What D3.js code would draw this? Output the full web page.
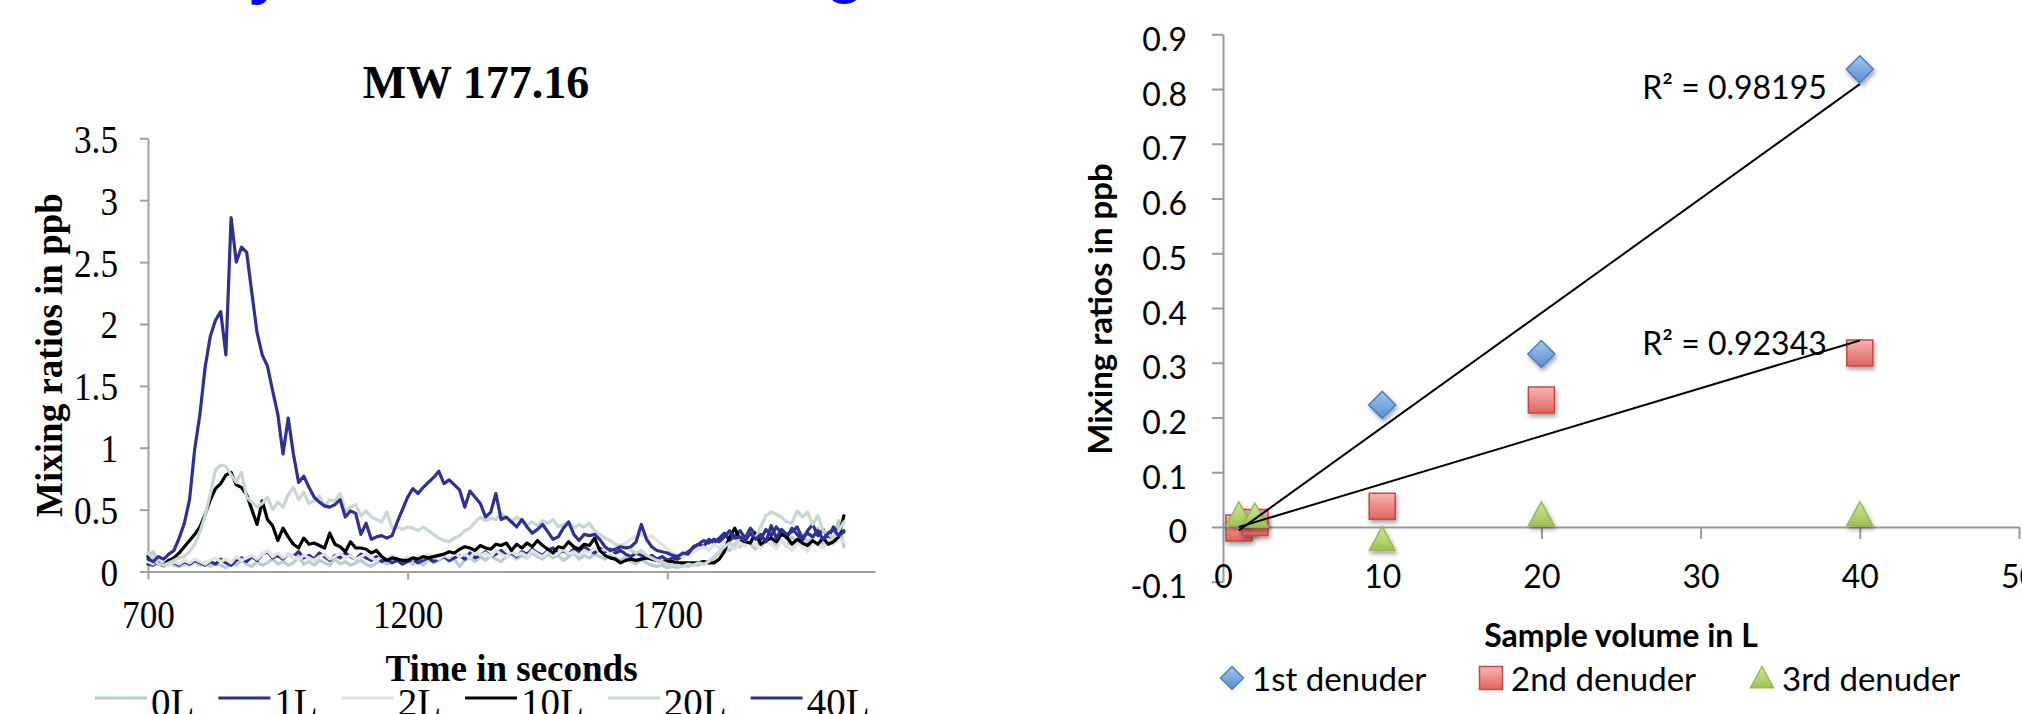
<!DOCTYPE html>
<html><head><meta charset="utf-8">
<script src="https://cdn.jsdelivr.net/npm/d3@7"></script>
<style>body{margin:0;background:#fff;overflow:hidden} svg{display:block}</style>
</head><body>
<svg id="c" width="2022" height="714"></svg>
<script>
// ---------------- LEFT CHART DATA (MW 177.16) ----------------
const timeStart = 700, timeStep = 10;           // seconds of first sample, spacing
const timeTicks = [700, 1200, 1700];
const leftYTicks = [0, 0.5, 1, 1.5, 2, 2.5, 3, 3.5];
const seriesNames = ["0L", "1L", "2L", "10L", "20L", "40L"];
const seriesColors = ["#b6ced1", "#2e3192", "#e2e2e2", "#000000", "#c8d6d6", "#2e3192"];

const s0L = [0.13,0.16,0.08,0.04,0.07,0.05,0.04,0.06,0.05,0.08,
0.05,0.07,0.04,0.06,0.05,0.03,0.07,0.05,0.09,0.06,
0.04,0.08,0.05,0.07,0.10,0.06,0.08,0.05,0.07,0.12,
0.06,0.08,0.05,0.09,0.07,0.05,0.10,0.06,0.08,0.05,
0.07,0.09,0.06,0.04,0.07,0.09,0.06,0.08,0.11,0.07,
0.09,0.06,0.08,0.05,0.10,0.07,0.09,0.12,0.08,0.10,
0.04,0.09,0.11,0.08,0.12,0.09,0.13,0.10,0.08,0.12,
0.14,0.10,0.13,0.11,0.15,0.12,0.10,0.14,0.11,0.13,
0.09,0.12,0.15,0.10,0.13,0.11,0.14,0.12,0.10,0.13,
0.11,0.09,0.12,0.08,0.06,0.10,0.07,0.05,0.04,0.05,
0.03,0.04,0.03,0.05,0.04,0.06,0.05,0.08,0.07,0.11,
0.15,0.19,0.17,0.22,0.20,0.26,0.22,0.18,0.29,0.24,
0.27,0.21,0.25,0.20,0.28,0.23,0.30,0.24,0.27,0.35,
0.22,0.28,0.25,0.41,0.20];

const s1L = [0.06,0.05,0.08,0.06,0.09,0.07,0.05,0.08,0.06,0.09,
0.07,0.05,0.08,0.06,0.10,0.07,0.05,0.09,0.11,0.08,
0.12,0.09,0.14,0.16,0.11,0.13,0.10,0.14,0.12,0.16,
0.11,0.13,0.10,0.15,0.12,0.09,0.13,0.11,0.15,0.12,
0.10,0.14,0.11,0.09,0.12,0.08,0.10,0.07,0.09,0.06,
0.08,0.10,0.07,0.09,0.11,0.08,0.10,0.12,0.09,0.11,
0.13,0.10,0.15,0.11,0.13,0.16,0.12,0.14,0.17,0.13,
0.15,0.12,0.16,0.14,0.18,0.15,0.13,0.17,0.19,0.15,
0.17,0.14,0.18,0.16,0.20,0.17,0.15,0.19,0.16,0.18,
0.15,0.17,0.14,0.12,0.15,0.13,0.11,0.13,0.10,0.12,
0.09,0.11,0.10,0.13,0.16,0.19,0.22,0.20,0.26,0.23,
0.27,0.31,0.25,0.29,0.33,0.27,0.35,0.30,0.26,0.34,
0.29,0.36,0.31,0.27,0.35,0.30,0.25,0.33,0.38,0.29,
0.34,0.27,0.36,0.31,0.33];

const s2L = [0.08,0.06,0.10,0.07,0.05,0.08,0.06,0.09,0.07,0.10,
0.08,0.06,0.09,0.11,0.08,0.10,0.07,0.12,0.09,0.11,
0.13,0.10,0.14,0.17,0.12,0.15,0.11,0.14,0.12,0.10,
0.13,0.11,0.09,0.12,0.14,0.10,0.12,0.15,0.11,0.13,
0.10,0.12,0.14,0.11,0.09,0.12,0.10,0.13,0.11,0.09,
0.12,0.10,0.13,0.11,0.14,0.12,0.10,0.13,0.11,0.15,
0.12,0.14,0.11,0.16,0.13,0.15,0.12,0.17,0.14,0.12,
0.16,0.13,0.15,0.12,0.17,0.14,0.12,0.16,0.13,0.15,
0.18,0.14,0.16,0.13,0.17,0.15,0.19,0.16,0.18,0.15,
0.19,0.21,0.23,0.26,0.28,0.30,0.27,0.29,0.25,0.22,
0.18,0.15,0.13,0.12,0.14,0.16,0.18,0.20,0.17,0.22,
0.19,0.24,0.21,0.18,0.23,0.20,0.25,0.21,0.19,0.24,
0.22,0.18,0.25,0.21,0.17,0.23,0.20,0.16,0.24,0.21,
0.19,0.26,0.22,0.27,0.24];

const s10L = [0.12,0.09,0.06,0.05,0.09,0.11,0.15,0.20,0.25,0.30,
0.36,0.46,0.58,0.67,0.71,0.78,0.80,0.70,0.68,0.62,
0.50,0.38,0.57,0.42,0.37,0.25,0.35,0.28,0.22,0.19,
0.27,0.22,0.23,0.21,0.19,0.31,0.22,0.20,0.16,0.24,
0.19,0.19,0.18,0.15,0.17,0.12,0.09,0.11,0.10,0.09,
0.09,0.11,0.10,0.12,0.11,0.12,0.13,0.14,0.16,0.15,
0.18,0.20,0.19,0.17,0.21,0.19,0.18,0.22,0.21,0.23,
0.17,0.22,0.19,0.23,0.20,0.25,0.21,0.18,0.15,0.20,
0.19,0.24,0.20,0.18,0.22,0.21,0.27,0.17,0.13,0.11,
0.10,0.07,0.09,0.10,0.09,0.10,0.11,0.10,0.09,0.08,
0.08,0.08,0.07,0.07,0.07,0.07,0.07,0.08,0.07,0.07,
0.10,0.16,0.28,0.35,0.26,0.24,0.23,0.31,0.22,0.25,
0.27,0.24,0.30,0.28,0.22,0.26,0.23,0.21,0.25,0.22,
0.27,0.22,0.24,0.28,0.45];

const s20L = [0.15,0.10,0.06,0.05,0.07,0.09,0.11,0.12,0.16,0.22,
0.32,0.45,0.63,0.82,0.86,0.85,0.78,0.72,0.80,0.60,
0.56,0.52,0.55,0.60,0.50,0.56,0.52,0.62,0.68,0.58,
0.64,0.55,0.57,0.61,0.52,0.58,0.57,0.63,0.49,0.52,
0.54,0.45,0.49,0.44,0.42,0.40,0.48,0.35,0.36,0.34,
0.36,0.35,0.33,0.36,0.33,0.30,0.27,0.25,0.24,0.27,
0.29,0.33,0.35,0.40,0.44,0.41,0.43,0.42,0.47,0.43,
0.40,0.44,0.41,0.38,0.40,0.37,0.41,0.39,0.42,0.36,
0.38,0.40,0.35,0.38,0.36,0.39,0.33,0.30,0.27,0.25,
0.22,0.21,0.20,0.17,0.15,0.17,0.13,0.11,0.09,0.08,
0.06,0.05,0.05,0.04,0.06,0.05,0.07,0.06,0.08,0.12,
0.16,0.20,0.23,0.21,0.28,0.25,0.31,0.27,0.36,0.45,
0.48,0.46,0.44,0.40,0.39,0.49,0.44,0.48,0.38,0.45,
0.33,0.30,0.28,0.33,0.40];

const s40L = [0.10,0.08,0.12,0.10,0.14,0.17,0.27,0.39,0.58,0.99,
1.27,1.65,1.90,2.03,2.10,1.75,2.86,2.50,2.62,2.58,
2.25,1.93,1.75,1.66,1.46,1.27,0.95,1.24,0.95,0.72,
0.77,0.68,0.60,0.56,0.53,0.52,0.54,0.58,0.44,0.49,
0.47,0.30,0.39,0.26,0.28,0.29,0.27,0.29,0.40,0.50,
0.60,0.67,0.63,0.68,0.72,0.76,0.81,0.71,0.74,0.70,
0.66,0.52,0.65,0.60,0.55,0.44,0.48,0.63,0.42,0.44,
0.40,0.36,0.42,0.36,0.31,0.34,0.38,0.32,0.26,0.28,
0.35,0.40,0.30,0.25,0.30,0.29,0.30,0.26,0.20,0.17,
0.18,0.20,0.19,0.20,0.24,0.38,0.26,0.20,0.17,0.16,
0.15,0.13,0.12,0.15,0.14,0.20,0.22,0.25,0.23,0.26,
0.24,0.28,0.33,0.27,0.28,0.25,0.31,0.26,0.30,0.24,
0.37,0.27,0.34,0.30,0.32,0.36,0.27,0.31,0.28,0.33,
0.26,0.31,0.34,0.29,0.32];

const leftSeries = [s0L, s1L, s2L, s10L, s20L, s40L];

// ---------------- RIGHT CHART DATA ----------------
const volume = [1, 2, 10, 20, 40];
const den1 = [0.005, 0.010, 0.223, 0.316, 0.836];
const den2 = [-0.002, 0.008, 0.038, 0.232, 0.318];
const den3 = [0.022, 0.020, -0.023, 0.022, 0.022];
const denNames = ["1st denuder", "2nd denuder", "3rd denuder"];
const r2Labels = ["R\u00B2 = 0.98195", "R\u00B2 = 0.92343"];
const rightYTicks = [-0.1, 0, 0.1, 0.2, 0.3, 0.4, 0.5, 0.6, 0.7, 0.8, 0.9];
const rightXTicks = [0, 10, 20, 30, 40, 50];

// ---------------- DRAWING ----------------
const svg = d3.select("#c");
svg.append("rect").attr("width", 2022).attr("height", 714).attr("fill", "#fff");
const defs = svg.append("defs");
const SERIF = "'Liberation Serif','Times New Roman',serif";
const SANS = "Lato,'Open Sans',sans-serif";
const AXIS = "#a0a0a0";

// clipped slide title remnants at top
svg.append("text").attr("x", 266).attr("y", -8).attr("text-anchor", "middle")
  .attr("font-family", "'Liberation Sans',Arial").attr("font-weight", "bold")
  .attr("font-size", 64).attr("fill", "#0000ff").text("y");
svg.append("text").attr("x", 845).attr("y", -9).attr("text-anchor", "middle")
  .attr("font-family", "'Liberation Sans',Arial").attr("font-weight", "bold")
  .attr("font-size", 64).attr("fill", "#0000ff").text("g");

// ---- left chart
const xL = d3.scaleLinear().domain([700, 2100]).range([148, 875]);
const yL = d3.scaleLinear().domain([0, 3.5]).range([571.5, 138.3]);

const gxL = svg.append("g").attr("transform", `translate(0,${yL(0)})`)
  .call(d3.axisBottom(xL).tickValues(timeTicks).tickSize(8).tickSizeOuter(0).tickFormat(d3.format("d")));
const gyL = svg.append("g").attr("transform", `translate(${xL(700)},0)`)
  .call(d3.axisLeft(yL).tickValues(leftYTicks).tickSize(8).tickSizeOuter(0).tickFormat(d3.format("")));
[gxL, gyL].forEach(g => {
  g.attr("font-family", SERIF).attr("font-size", 40);
  g.selectAll("path,line").attr("stroke", AXIS).attr("stroke-width", 2);
  g.selectAll("text").attr("fill", "#000").attr("transform", "scale(0.88,1)");
});
gxL.selectAll("text").attr("y", 56.5).attr("dy", null);
gyL.selectAll("text").attr("x", -30 / 0.88).attr("y", 14).attr("dy", null);

const lineL = d3.line().x((d, i) => xL(timeStart + timeStep * i)).y(d => yL(d));
leftSeries.forEach((s, k) => {
  svg.append("path").datum(s).attr("d", lineL).attr("fill", "none")
    .attr("stroke", seriesColors[k]).attr("stroke-width", 3.2)
    .attr("stroke-linejoin", "round").attr("stroke-linecap", "round");
});

svg.append("text").attr("x", 476).attr("y", 98).attr("text-anchor", "middle")
  .attr("font-family", SERIF).attr("font-weight", "bold").attr("font-size", 46).text("MW 177.16");
svg.append("text").attr("transform", "translate(62,355) rotate(-90)").attr("text-anchor", "middle")
  .attr("font-family", SERIF).attr("font-weight", "bold").attr("font-size", 37).text("Mixing ratios in ppb");
svg.append("text").attr("x", (xL.range()[0] + xL.range()[1]) / 2).attr("y", 681).attr("text-anchor", "middle")
  .attr("font-family", SERIF).attr("font-weight", "bold").attr("font-size", 37).text("Time in seconds");

// left legend
let lx = 95;
seriesNames.forEach((n, k) => {
  svg.append("line").attr("x1", lx).attr("x2", lx + 52).attr("y1", 698).attr("y2", 698)
    .attr("stroke", seriesColors[k]).attr("stroke-width", 3);
  const t = svg.append("text").attr("x", lx + 56).attr("y", 716)
    .attr("font-family", SERIF).attr("font-size", 39).text(n);
  lx += 56 + t.node().getComputedTextLength() + 24;
});

// ---- right chart
const xR = d3.scaleLinear().domain([0, 50]).range([1223, 2019]);
const yR = d3.scaleLinear().domain([-0.1, 0.9]).range([581.7, 34.3]);

const gyR = svg.append("g").attr("transform", `translate(${xR(0)},0)`)
  .call(d3.axisLeft(yR).tickValues(rightYTicks).tickSize(11).tickSizeOuter(0)
    .tickFormat(d => d === 0 ? "0" : d.toFixed(1)));
const gxR = svg.append("g").attr("transform", `translate(0,${yR(0)})`)
  .call(d3.axisBottom(xR).tickValues(rightXTicks).tickSize(12).tickSizeOuter(0));
[gxR, gyR].forEach(g => {
  g.attr("font-family", SANS).attr("font-size", 32);
  g.selectAll("path,line").attr("stroke", "#999").attr("stroke-width", 2);
  g.selectAll("text").attr("fill", "#000");
});
gyR.selectAll("text").attr("x", -36).attr("y", 16).attr("dy", null);
gxR.selectAll("text").attr("y", 61).attr("dy", null);
gxR.selectAll(".tick").filter(d => d === 0).select("line").remove();

// gradients & shadow
function grad(id, c1, c2) {
  const g = defs.append("linearGradient").attr("id", id).attr("x1", 0).attr("y1", 0).attr("x2", 0).attr("y2", 1);
  g.append("stop").attr("offset", "0%").attr("stop-color", c1);
  g.append("stop").attr("offset", "100%").attr("stop-color", c2);
}
grad("gBlue", "#a3c6f0", "#5a8ed2");
grad("gRed", "#f8b6b4", "#e0625e");
grad("gGreen", "#d2e8a0", "#9cc250");
const f = defs.append("filter").attr("id", "sh").attr("x", "-50%").attr("y", "-50%").attr("width", "200%").attr("height", "200%");
f.append("feDropShadow").attr("dx", 1.5).attr("dy", 3).attr("stdDeviation", 2)
  .attr("flood-color", "#000").attr("flood-opacity", 0.35);

const shapes = {
  diamond: s => `M0,${-s / 2}L${s / 2},0L0,${s / 2}L${-s / 2},0Z`,
  square: s => `M${-s / 2},${-s / 2}h${s}v${s}h${-s}Z`,
  triangle: s => `M0,${-s * 0.5}L${s / 2},${s * 0.42}L${-s / 2},${s * 0.42}Z`
};
const denStyle = [
  { shape: "diamond", fill: "url(#gBlue)", stroke: "#4a7ebb", size: 27 },
  { shape: "square", fill: "url(#gRed)", stroke: "#be4b48", size: 26 },
  { shape: "triangle", fill: "url(#gGreen)", stroke: "#98b954", size: 26 }
];
const denData = [den1, den2, den3];
denData.forEach((vals, k) => {
  const st = denStyle[k];
  svg.append("g").selectAll("path").data(vals).join("path")
    .attr("transform", (d, i) => `translate(${xR(volume[i])},${yR(d)})`)
    .attr("d", shapes[st.shape](st.size))
    .attr("fill", st.fill).attr("stroke", st.stroke).attr("stroke-width", 1.5)
    .attr("filter", "url(#sh)");
});

// linear trendlines for 1st and 2nd denuder
[den1, den2].forEach((vals, k) => {
  const mx = d3.mean(volume), my = d3.mean(vals);
  const sxy = d3.sum(volume, (x, i) => (x - mx) * (vals[i] - my));
  const sxx = d3.sum(volume, x => (x - mx) * (x - mx));
  const b = sxy / sxx, a = my - b * mx;
  const x0 = d3.min(volume), x1 = d3.max(volume);
  svg.append("line").attr("x1", xR(x0)).attr("y1", yR(a + b * x0))
    .attr("x2", xR(x1)).attr("y2", yR(a + b * x1))
    .attr("stroke", "#000").attr("stroke-width", 2);
  svg.append("text").attr("x", xR(x1) - 33).attr("y", yR(a + b * x1) + 15)
    .attr("text-anchor", "end").attr("font-family", SANS).attr("font-size", 32).text(r2Labels[k]);
});

svg.append("text").attr("transform", "translate(1112,309) rotate(-90)").attr("text-anchor", "middle")
  .attr("font-family", SANS).attr("font-weight", "bold").attr("font-size", 33).text("Mixing ratios in ppb");
svg.append("text").attr("x", (xR.range()[0] + xR.range()[1]) / 2).attr("y", 647).attr("text-anchor", "middle")
  .attr("font-family", SANS).attr("font-weight", "bold").attr("font-size", 32).text("Sample volume in L");

// right legend
const legPos = [1232, 1491, 1762];
denNames.forEach((n, k) => {
  const st = denStyle[k];
  svg.append("path").attr("transform", `translate(${legPos[k]},678)`)
    .attr("d", shapes[st.shape](23)).attr("fill", st.fill).attr("stroke", st.stroke).attr("stroke-width", 1.5);
  svg.append("text").attr("x", legPos[k] + 20).attr("y", 691)
    .attr("font-family", SANS).attr("font-size", 33).text(n);
});
</script>
</body></html>
